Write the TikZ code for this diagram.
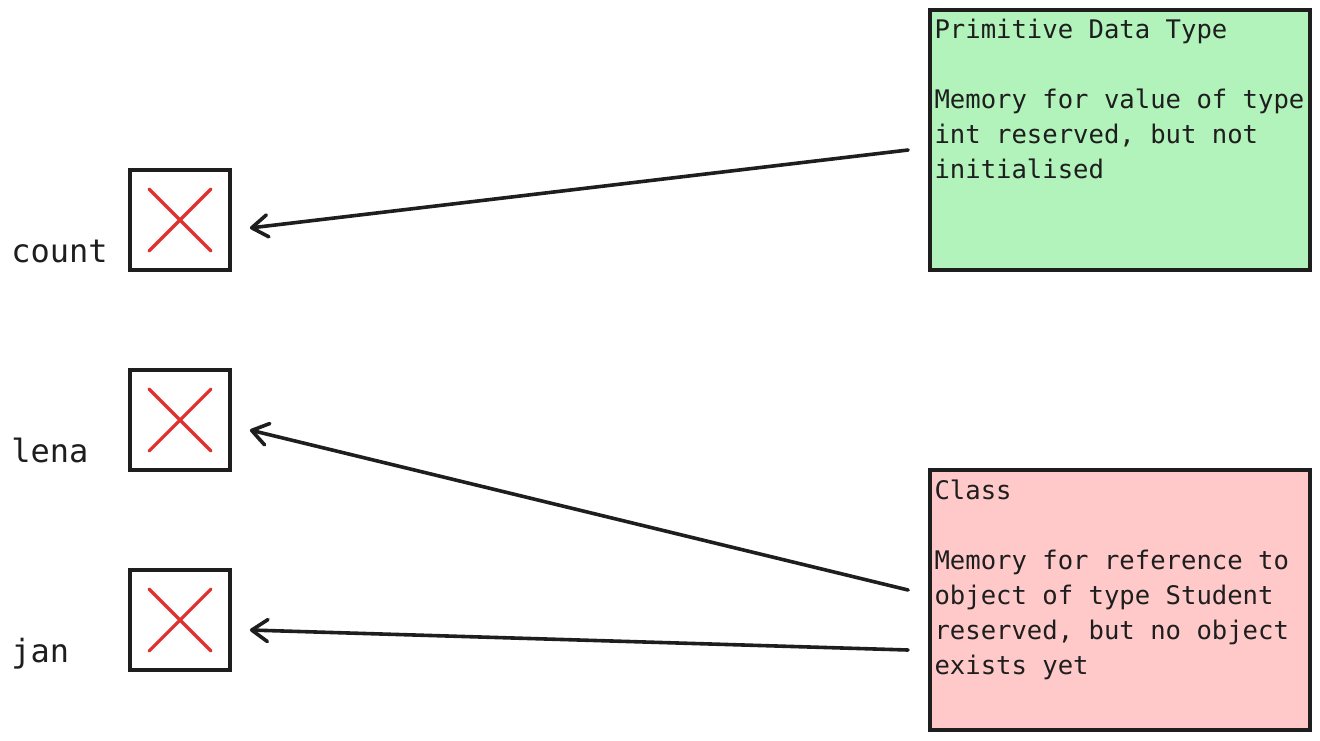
\documentclass[tikz,border=0pt]{standalone}
\usepackage{fontspec}
\newfontfamily\manomono{DejaVu Sans Mono}
\usetikzlibrary{arrows.meta}

\definecolor{tratto}{HTML}{1E1E1E}
\definecolor{rosso}{HTML}{E03131}
\definecolor{verdino}{HTML}{B2F2BB}
\definecolor{rosino}{HTML}{FFC9C9}

\tikzset{
  cella/.style={draw=tratto, line width=1.9pt, minimum width=50pt, minimum height=50pt, inner sep=0pt},
  croce/.style={draw=rosso, line width=1.6pt, line cap=round},
  riquadro/.style={draw=tratto, line width=1.9pt, minimum width=190pt, minimum height=130pt, inner sep=0pt},
  nome/.style={anchor=base west, inner sep=0pt, text=tratto, font=\manomono\fontsize{16}{19}\selectfont},
  testo/.style={anchor=north west, inner sep=0pt, align=left, text=tratto, font=\manomono\fontsize{12.8}{17.5}\selectfont},
  freccia/.style={draw=tratto, line width=1.8pt, line cap=round, -{Straight Barb[length=8pt, width=11pt, round]}}
}

\begin{document}
\begin{tikzpicture}[x=0.5pt, y=-0.5pt]
    \useasboundingbox (0,0) rectangle (1320,740);

    % Celle delle variabili
    \node[cella] (cCount) at (180,220) {};
    \node[cella] (cLena) at (180,420) {};
    \node[cella] (cJan) at (180,620) {};

    % Croci rosse
    \foreach \c in {cCount, cLena, cJan} {
        \draw[croce] (\c.center) +(-31,-31) -- +(31,31);
        \draw[croce] (\c.center) +(31,-31) -- +(-31,31);
    }

    % Nomi
    \node[nome] (nCount) at (11,262) {count};
    \node[nome] (nLena) at (11,462) {lena};
    \node[nome] (nJan) at (11,662) {jan};

    % Riquadri
    \node[riquadro, fill=verdino] (prim) at (1120,140) {};
    \node[riquadro, fill=rosino] (klasse) at (1120,600) {};

    \node[testo] (tPrim) at ([xshift=3pt, yshift=-5.5pt]prim.north west)
        {Primitive Data Type\\[17.5pt]Memory for value of type\\int reserved, but not\\initialised};
    \node[testo] (tKlasse) at ([xshift=3pt, yshift=-5.5pt]klasse.north west)
        {Class\\[17.5pt]Memory for reference to\\object of type Student\\reserved, but no object\\exists yet};

    % Frecce
    \draw[freccia] ([xshift=-10pt, yshift=-5pt]prim.west) -- ([xshift=9pt, yshift=-4pt]cCount.east);
    \draw[freccia] ([xshift=-10pt, yshift=5pt]klasse.west) -- ([xshift=9pt, yshift=-5pt]cLena.east);
    \draw[freccia] ([xshift=-10pt, yshift=-25pt]klasse.west) -- ([xshift=9pt, yshift=-5pt]cJan.east);
\end{tikzpicture}
\end{document}
